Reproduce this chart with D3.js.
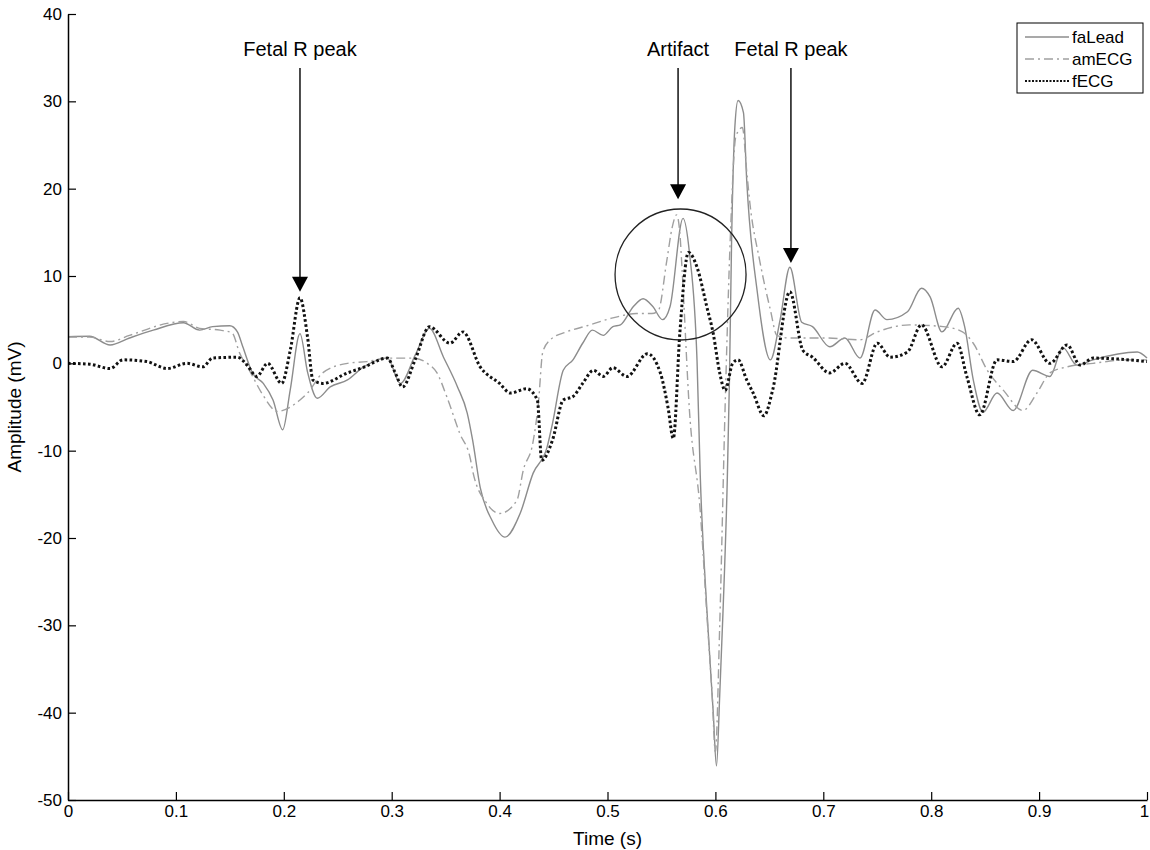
<!DOCTYPE html>
<html>
<head>
<meta charset="utf-8">
<script src="https://cdn.jsdelivr.net/npm/d3@7"></script>
<style>
  body { margin: 0; background: #fff; }
  text { font-family: "Liberation Sans", Arial, sans-serif; }
</style>
</head>
<body>
<div id="chart"></div>
<script>
// faLead (solid grey)
var faT = [0, 0.020, 0.039, 0.057, 0.079, 0.107, 0.122, 0.134, 0.150, 0.157, 0.162, 0.171, 0.181, 0.190, 0.199,
  0.206, 0.215, 0.222, 0.231, 0.243, 0.259, 0.273, 0.296, 0.308, 0.322, 0.335, 0.348, 0.361, 0.370, 0.375,
  0.382, 0.393, 0.405, 0.419, 0.431, 0.444, 0.449, 0.459, 0.468, 0.477, 0.486, 0.496, 0.505, 0.512, 0.524,
  0.533, 0.542, 0.551, 0.558, 0.570, 0.576, 0.583, 0.586, 0.592, 0.598, 0.601, 0.604, 0.607, 0.611, 0.613,
  0.615, 0.618, 0.621, 0.626, 0.629, 0.639, 0.651, 0.660, 0.669, 0.680, 0.690, 0.706, 0.720, 0.734, 0.748,
  0.759, 0.778, 0.791, 0.799, 0.810, 0.825, 0.831, 0.839, 0.848, 0.861, 0.876, 0.894, 0.910, 0.922, 0.935,
  0.950, 0.991, 1.000];
var faLead = [3.05, 3.1, 2.1, 2.9, 3.8, 4.65, 3.8, 4.2, 4.3, 3.6, 1.9, -1.1, -2.3, -4.2, -7.6,
  -3.0, 3.4, -1.0, -4.0, -2.7, -1.9, -0.5, 0.6, -2.3, 1.0, 4.0, 0.7, -2.7, -5.7, -8.8,
  -14.2, -18.0, -19.9, -17.2, -12.6, -9.6, -6.9, -0.8, 0.4, 2.3, 3.8, 3.2, 4.2, 4.4, 6.5,
  7.4, 6.5, 5.0, 6.5, 16.6, 12.6, 0.2, -13, -28.0, -40.0, -46.1, -38, -28.6, -13.4, -2,
  14, 27, 30.1, 28.7, 21, 8, 0.4, 5, 11.0, 4.7, 4.2, 1.9, 2.9, 0.6, 6.1,
  5.0, 5.9, 8.6, 7.6, 3.6, 6.3, 4.2, -1.9, -5.6, -3.4, -5.4, -0.8, -1.5, 1.8, -0.2,
  0.4, 1.3, 0.6];

// amECG (grey dash-dot)
var amT = [0, 0.020, 0.039, 0.057, 0.093, 0.107, 0.122, 0.141, 0.152, 0.159, 0.169, 0.180, 0.194, 0.206, 0.215,
  0.222, 0.236, 0.259, 0.277, 0.296, 0.320, 0.333, 0.342, 0.351, 0.363, 0.373, 0.375, 0.388, 0.400, 0.416,
  0.422, 0.431, 0.436, 0.440, 0.447, 0.462, 0.481, 0.505, 0.527, 0.541, 0.547, 0.555, 0.560, 0.564, 0.567,
  0.569, 0.576, 0.586, 0.592, 0.597, 0.600, 0.604, 0.609, 0.614, 0.619, 0.625, 0.629, 0.632, 0.641, 0.651,
  0.657, 0.669, 0.703, 0.734, 0.750, 0.780, 0.811, 0.829, 0.839, 0.852, 0.867, 0.885, 0.898, 0.910, 0.926,
  0.950, 0.981, 1.000];
var amECG = [3.0, 3.0, 2.5, 3.2, 4.6, 4.8, 4.0, 3.8, 3.5, 1.2, -1.0, -3.5, -5.5, -5.0, -4.2,
  -3.4, -1.1, 0, 0.2, 0.6, 0.6, 0, -1.1, -3.8, -8, -11, -12.3, -16, -17.2, -15.7,
  -12.2, -9, -4.5, 1.3, 2.7, 3.6, 4.3, 5.2, 5.7, 5.7, 6.0, 11.8, 15.6, 17.0, 15,
  11, -5.5, -17, -28.6, -38, -44.5, -30, -5, 15, 26, 27, 22, 18.3, 11.8, 6.1,
  3.2, 2.9, 2.9, 2.7, 3.6, 4.4, 4.2, 3.6, 2.3, -0.8, -3.1, -5.4, -3.4, -1.1, -0.4,
  0, 0.4, 0.4];

// fECG (black dotted)
var feT = [0, 0.020, 0.039, 0.051, 0.073, 0.092, 0.110, 0.125, 0.134, 0.157, 0.166, 0.175, 0.185, 0.198, 0.206,
  0.215, 0.222, 0.227, 0.236, 0.259, 0.273, 0.296, 0.303, 0.310, 0.322, 0.335, 0.354, 0.366, 0.382, 0.400,
  0.410, 0.425, 0.435, 0.439, 0.449, 0.459, 0.468, 0.477, 0.487, 0.496, 0.505, 0.518, 0.537, 0.549, 0.556,
  0.561, 0.567, 0.575, 0.583, 0.592, 0.598, 0.604, 0.609, 0.616, 0.621, 0.629, 0.635, 0.645, 0.653, 0.669,
  0.681, 0.690, 0.706, 0.720, 0.736, 0.750, 0.762, 0.778, 0.791, 0.810, 0.824, 0.833, 0.845, 0.861, 0.876,
  0.893, 0.910, 0.926, 0.938, 0.950, 1.000];
var fECG = [0, -0.1, -0.6, 0.4, 0.2, -0.6, 0, -0.4, 0.6, 0.7, -0.2, -1.5, 0, -2.3, 1.5,
  7.5, 3, -1.9, -2.3, -1.1, -0.5, 0.6, -1, -2.7, 0.5, 4.2, 2.3, 3.6, -0.4, -2.3,
  -3.4, -2.9, -4.2, -11.1, -8.8, -4.2, -3.8, -2.3, -0.8, -1.5, -0.5, -1.5, 1.1, -1.1, -5,
  -8.6, 3.4, 12.7, 11, 6.5, 3.4, -1.1, -3.1, 0, 0.4, -1.9, -3.4, -6.0, -3.1, 8.2,
  1.5, 0.7, -1.1, 0, -2.3, 2.3, 0.7, 1.3, 4.4, -0.4, 2.3, -1.5, -5.9, 0.4, 0.2,
  2.7, 0, 2.1, -0.2, 0.6, 0.2];

var xTicks = [0, 0.1, 0.2, 0.3, 0.4, 0.5, 0.6, 0.7, 0.8, 0.9, 1];
var yTicks = [-50, -40, -30, -20, -10, 0, 10, 20, 30, 40];

// annotations: label, time of arrow, amplitude at arrow tip
var annoLabels = ['Fetal R peak', 'Artifact', 'Fetal R peak'];
var annoT = [0.215, 0.5654, 0.670];
var annoTip = [8.2, 18.8, 11.5];
var circleT = 0.5677, circleV = 10.17;

var series = [
  {name: 'faLead', t: faT, v: faLead},
  {name: 'amECG', t: amT, v: amECG},
  {name: 'fECG', t: feT, v: fECG}
];
var styles = {
  faLead: {stroke: '#8c8c8c', width: 1.4, dash: null},
  amECG: {stroke: '#a0a0a0', width: 1.4, dash: '9,4,2,4'},
  fECG: {stroke: '#111', width: 3, dash: '2.6,2.4'}
};

var margin = {top: 14, right: 3, bottom: 50, left: 68};
var fullWidth = 1150, fullHeight = 850;
var width = fullWidth - margin.left - margin.right;
var height = fullHeight - margin.top - margin.bottom;

var svg = d3.select('#chart').append('svg')
  .attr('width', fullWidth)
  .attr('height', fullHeight)
  .append('g')
    .attr('transform', 'translate(' + margin.left + ',' + margin.top + ')');

var x = d3.scaleLinear().domain([0, 1]).range([0, width]);
var y = d3.scaleLinear().domain([-50, 40]).range([height, 0]);

// axes, ticks inside like matlab, plain hyphen for minus
var xAxis = d3.axisBottom(x).tickValues(xTicks).tickSizeInner(-8).tickSizeOuter(0).tickPadding(5)
  .tickFormat(function(d) { return String(d); });
var yAxis = d3.axisLeft(y).tickValues(yTicks).tickSizeInner(-8).tickSizeOuter(0).tickPadding(6)
  .tickFormat(function(d) { return String(d); });

var line = d3.line()
  .x(function(d) { return x(d[0]); })
  .y(function(d) { return y(d[1]); })
  .curve(d3.curveMonotoneX);

series.forEach(function(s) {
  var pts = s.t.map(function(t, i) { return [t, s.v[i]]; });
  var st = styles[s.name];
  svg.append('path')
    .attr('d', line(pts))
    .attr('fill', 'none')
    .attr('stroke', st.stroke)
    .attr('stroke-width', st.width)
    .attr('stroke-dasharray', st.dash);
});

var gx = svg.append('g')
  .attr('transform', 'translate(0,' + height + ')')
  .call(xAxis);
var gy = svg.append('g').call(yAxis);
[gx, gy].forEach(function(g) {
  g.select('.domain').attr('stroke', '#000').attr('stroke-width', 1.5);
  g.selectAll('.tick line').attr('stroke', '#000').attr('stroke-width', 1.2);
  g.selectAll('.tick text').attr('fill', '#000').style('font-size', '17px');
});
// last x label sits on the page edge
gx.selectAll('.tick text').filter(function(d) { return d == 1; }).attr('dx', '-3');

svg.append('text')
  .attr('x', width / 2)
  .attr('y', height + 45)
  .attr('text-anchor', 'middle')
  .style('font-size', '19px')
  .text('Time (s)');

svg.append('text')
  .attr('transform', 'translate(-47,' + (height / 2) + ')rotate(-90)')
  .attr('text-anchor', 'middle')
  .style('font-size', '19px')
  .text('Amplitude (mV)');

// circle round the artifact
svg.append('circle')
  .attr('cx', x(circleT))
  .attr('cy', y(circleV))
  .attr('r', 65.5)
  .attr('fill', 'none')
  .attr('stroke', '#222')
  .attr('stroke-width', 1.3);

// arrows and their labels
annoLabels.forEach(function(lbl, i) {
  var ax = x(annoT[i]);
  var tip = y(annoTip[i]);
  svg.append('text')
    .attr('x', ax)
    .attr('y', 42)
    .attr('text-anchor', 'middle')
    .style('font-size', '20px')
    .text(lbl);
  svg.append('line')
    .attr('x1', ax).attr('x2', ax)
    .attr('y1', 54).attr('y2', tip - 14)
    .attr('stroke', '#000')
    .attr('stroke-width', 1.4);
  svg.append('path')
    .attr('d', 'M' + (ax - 8) + ',' + (tip - 15) + 'L' + (ax + 8) + ',' + (tip - 15) + 'L' + ax + ',' + tip + 'Z')
    .attr('fill', '#000');
});

// legend
var legend = svg.append('g')
  .attr('transform', 'translate(' + (1017 - margin.left) + ',' + (23 - margin.top) + ')');
legend.append('rect')
  .attr('width', 126)
  .attr('height', 70)
  .attr('fill', '#fff')
  .attr('stroke', '#000')
  .attr('stroke-width', 1);
series.forEach(function(s, i) {
  var st = styles[s.name];
  var ly = 14 + i * 22;
  legend.append('line')
    .attr('x1', 8).attr('x2', 52)
    .attr('y1', ly).attr('y2', ly)
    .attr('stroke', st.stroke)
    .attr('stroke-width', s.name == 'fECG' ? 2.2 : st.width)
    .attr('stroke-dasharray', s.name == 'fECG' ? '2,1.5' : st.dash);
  legend.append('text')
    .attr('x', 55)
    .attr('y', ly + 6)
    .style('font-size', '17px')
    .text(s.name);
});
</script>
</body>
</html>
